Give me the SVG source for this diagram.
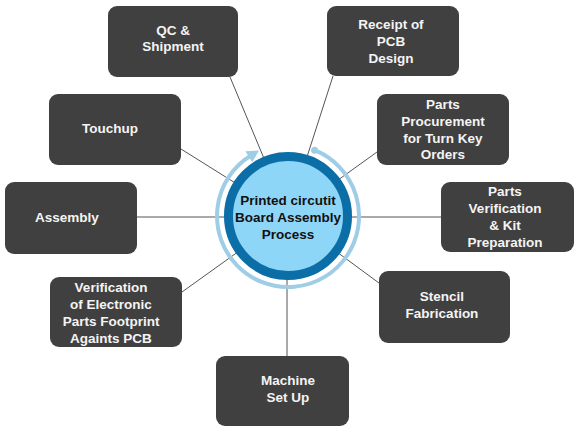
<svg xmlns="http://www.w3.org/2000/svg" width="579" height="438" viewBox="0 0 579 438">
<defs>
<style>
.node rect{fill:#404040;}
.node text{fill:#f4f4f4;font-family:"Liberation Sans",Arial,sans-serif;font-weight:bold;font-size:13.5px;text-anchor:middle;}
.conn line{stroke:#555;stroke-width:1;}
.center text{fill:#111;font-family:"Liberation Sans",Arial,sans-serif;font-weight:bold;font-size:13.5px;text-anchor:middle;}
</style>
<marker id="arr" markerWidth="12" markerHeight="13" refX="2" refY="6.5" orient="auto" markerUnits="userSpaceOnUse" viewBox="0 0 12 13">
<path d="M0,0 L12,6.5 L0,13 Z" fill="#9fcde6"/>
</marker>
</defs>
<rect width="579" height="438" fill="#fff"/>
<g id="connectors" class="conn">
<line x1="230" y1="77" x2="288" y2="216"/>
<line x1="333" y1="76" x2="288" y2="216"/>
<line x1="377" y1="152" x2="288" y2="216"/>
<line x1="181" y1="149" x2="288" y2="216"/>
<line x1="137" y1="217" x2="288" y2="217"/>
<line x1="182" y1="292" x2="288" y2="216"/>
<line x1="287" y1="356" x2="287" y2="216"/>
<line x1="441" y1="217" x2="288" y2="217"/>
<line x1="379" y1="283" x2="288" y2="216"/>
</g>
<g id="center" class="center">
<path d="M314.6,150.2 A71,71 0 1 1 250.5,155.8" fill="none" stroke="#9fcde6" stroke-width="4" marker-end="url(#arr)"/>
<circle cx="314.6" cy="150.2" r="3.5" fill="#9fcde6"/>
<circle cx="288" cy="216" r="59.5" fill="#8ed6f8" stroke="#0b6ea7" stroke-width="9"/>
<text x="288" y="205">Printed circutit</text>
<text x="288" y="222">Board Assembly</text>
<text x="288" y="239">Process</text>
</g>
<g id="qc" class="node"><rect x="108" y="6" width="130" height="71" rx="9"/><text x="173" y="35">QC &amp;</text><text x="173" y="51">Shipment</text></g>
<g id="receipt" class="node"><rect x="327" y="6" width="132" height="70" rx="9"/><text x="391" y="29">Receipt of</text><text x="391" y="46">PCB</text><text x="391" y="63">Design</text></g>
<g id="procurement" class="node"><rect x="377" y="94" width="132" height="71" rx="9"/><text x="443" y="109">Parts</text><text x="443" y="126">Procurement</text><text x="443" y="143">for Turn Key</text><text x="443" y="159">Orders</text></g>
<g id="touchup" class="node"><rect x="49" y="94" width="132" height="71" rx="9"/><text x="110" y="133">Touchup</text></g>
<g id="assembly" class="node"><rect x="5" y="182" width="132" height="72" rx="9"/><text x="67" y="222">Assembly</text></g>
<g id="verification" class="node"><rect x="50" y="277" width="132" height="70" rx="9"/><text x="111" y="292">Verification</text><text x="111" y="309">of Electronic</text><text x="111" y="326">Parts Footprint</text><text x="111" y="343">Againts PCB</text></g>
<g id="machine" class="node"><rect x="216" y="356" width="133" height="70" rx="9"/><text x="288" y="385">Machine</text><text x="288" y="402">Set Up</text></g>
<g id="kit" class="node"><rect x="441" y="182" width="133" height="70" rx="9"/><text x="505" y="196">Parts</text><text x="505" y="213">Verification</text><text x="505" y="230">&amp; Kit</text><text x="505" y="247">Preparation</text></g>
<g id="stencil" class="node"><rect x="379" y="271" width="131" height="72" rx="9"/><text x="442" y="301">Stencil</text><text x="442" y="318">Fabrication</text></g>
</svg>
